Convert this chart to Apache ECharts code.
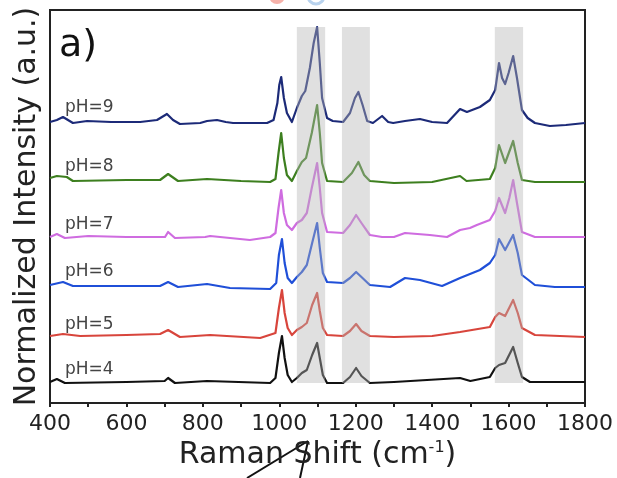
<!DOCTYPE html>
<html>
<head>
<meta charset="utf-8">
<script src="https://cdn.jsdelivr.net/npm/echarts@6/dist/echarts.min.js"></script>
<style>
  html, body { margin: 0; padding: 0; background: #fff; }
  #main { width: 617px; height: 478px; }
</style>
</head>
<body>
<div id="main"></div>
<script>
// spectra, already offset (stacked) as in the figure: [Raman shift, intensity]
const ph9 = [[400,281],[418,283],[434,286],[460,280],[497,282],[560,281],[636,281],[680,283],[706,289],[722,283],[740,279],[793,280],[811,282],[837,283],[860,281],[879,280],[920,280],[968,280],[985,283],[995,300],[1000,318],[1005,326],[1012,305],[1020,290],[1033,281],[1046,295],[1059,307],[1068,312],[1080,335],[1090,360],[1099,376],[1106,340],[1112,305],[1125,285],[1140,282],[1167,281],[1185,290],[1198,305],[1207,311],[1218,298],[1230,282],[1245,280],[1269,287],[1285,281],[1298,280],[1329,282],[1368,284],[1400,281],[1439,280],[1473,294],[1491,291],[1525,296],[1551,303],[1565,313],[1575,340],[1583,325],[1591,319],[1600,330],[1612,347],[1622,325],[1635,293],[1650,285],[1669,280],[1708,277],[1750,278],[1800,280]];
const ph8 = [[400,225],[418,227],[444,226],[460,222],[600,223],[688,223],[709,229],[735,222],[811,224],[900,222],[976,221],[990,224],[998,250],[1005,270],[1012,245],[1020,228],[1033,222],[1046,232],[1059,241],[1070,245],[1085,270],[1099,298],[1106,270],[1112,240],[1125,222],[1167,221],[1190,230],[1207,241],[1222,228],[1237,222],[1300,220],[1400,221],[1473,227],[1490,222],[1551,224],[1565,235],[1575,258],[1591,240],[1612,262],[1624,240],[1635,223],[1669,221],[1800,221]];
const ph7 = [[400,166],[418,169],[439,165],[500,167],[600,166],[701,166],[709,171],[727,165],[806,166],[819,167],[923,163],[976,166],[990,170],[998,195],[1005,213],[1012,190],[1020,178],[1033,173],[1046,180],[1059,183],[1072,190],[1085,215],[1099,240],[1106,215],[1112,190],[1125,171],[1167,170],[1185,178],[1201,188],[1215,180],[1237,168],[1269,166],[1300,166],[1329,170],[1394,168],[1439,166],[1473,173],[1499,175],[1517,178],[1551,183],[1565,192],[1575,205],[1591,190],[1602,205],[1612,223],[1622,200],[1635,171],[1669,166],[1800,166]];
const ph6 = [[400,118],[434,121],[460,117],[600,117],[688,117],[709,121],[735,116],[811,119],[871,115],[976,114],[992,120],[999,148],[1007,164],[1014,140],[1022,125],[1033,120],[1046,126],[1059,131],[1072,138],[1086,160],[1099,180],[1106,155],[1114,130],[1125,121],[1167,120],[1185,125],[1201,131],[1215,126],[1237,118],[1290,116],[1329,125],[1368,123],[1426,117],[1473,125],[1525,133],[1551,140],[1565,148],[1575,164],[1591,153],[1612,168],[1624,150],[1635,128],[1669,118],[1721,116],[1800,116]];
const ph5 = [[400,67],[434,69],[479,67],[600,68],[688,69],[709,73],[740,66],[819,68],[950,65],[990,70],[999,95],[1007,113],[1014,90],[1022,75],[1033,68],[1046,73],[1059,76],[1072,80],[1086,98],[1099,110],[1106,92],[1114,75],[1125,68],[1167,67],[1185,72],[1201,79],[1215,72],[1237,67],[1300,66],[1400,67],[1473,71],[1551,76],[1565,86],[1575,90],[1591,87],[1612,103],[1624,90],[1635,75],[1669,68],[1800,66]];
const ph4 = [[400,21],[418,24],[439,20],[600,21],[700,22],[709,25],[727,20],[811,22],[976,20],[990,25],[999,50],[1007,67],[1014,45],[1022,28],[1033,21],[1046,25],[1059,30],[1072,33],[1086,48],[1099,60],[1106,45],[1114,28],[1125,20],[1167,20],[1185,26],[1201,35],[1215,27],[1237,20],[1300,21],[1473,25],[1500,22],[1551,26],[1565,35],[1575,38],[1591,40],[1612,56],[1624,40],[1635,26],[1656,21],[1800,21]];

const phNames = ['pH=4', 'pH=5', 'pH=6', 'pH=7', 'pH=8', 'pH=9'];
const phColors = ['#111111', '#d8453c', '#1f4fd8', '#cf6ce0', '#3d7f1f', '#1c2a78'];
const labelPos = [[439, 33], [439, 78], [439, 131], [439, 178], [439, 236], [439, 295]];
const bands = [[1046, 1120], [1164, 1237], [1564, 1638]];
const bandY = [20, 376];

const spectra = [ph4, ph5, ph6, ph7, ph8, ph9];
const font = 'DejaVu Sans';

let chart = echarts.init(document.getElementById('main'));

let series = spectra.map((d, i) => ({
  name: phNames[i],
  type: 'line',
  data: d,
  showSymbol: false,
  lineStyle: { color: phColors[i], width: 2.2, join: 'round' },
  itemStyle: { color: phColors[i] },
  markPoint: {
    symbol: 'circle',
    symbolSize: 0,
    silent: true,
    label: {
      show: true,
      position: 'right',
      distance: 0,
      formatter: phNames[i],
      fontFamily: font,
      fontSize: 17,
      color: '#444'
    },
    data: [{ coord: labelPos[i] }]
  }
}));

// grey bands, drawn over the lines (they fade them in the figure)
series.push({
  type: 'line',
  data: [],
  markArea: {
    z: 10,
    silent: true,
    itemStyle: { color: 'rgba(180,180,180,0.42)' },
    data: bands.map(b => [{ xAxis: b[0], yAxis: bandY[0] }, { xAxis: b[1], yAxis: bandY[1] }])
  }
});

chart.setOption({
  animation: false,
  grid: {
    left: 50, right: 32, top: 10, bottom: 75,
    show: true, borderColor: '#222', borderWidth: 2
  },
  title: {
    text: 'a)',
    left: 54, top: 22,
    textStyle: { fontFamily: font, fontSize: 38, fontWeight: 'normal', color: '#111' }
  },
  xAxis: {
    type: 'value',
    min: 400, max: 1800, interval: 200,
    name: 'Raman Shift (cm{sup|-1})',
    nameLocation: 'middle',
    nameGap: 36,
    nameTextStyle: {
      fontFamily: font, fontSize: 30, color: '#222',
      rich: { sup: { fontFamily: font, fontSize: 16, color: '#222', verticalAlign: 'top', padding: [0, 0, 14, 0] } }
    },
    axisLine: { lineStyle: { color: '#222', width: 2 } },
    axisTick: { show: true, length: 4, lineStyle: { color: '#222', width: 2 } },
    minorTick: { show: true, splitNumber: 2, length: 4, lineStyle: { color: '#222', width: 2 } },
    splitLine: { show: false },
    axisLabel: {
      fontFamily: font, fontSize: 22, color: '#222', margin: 10,
      formatter: v => String(v)
    }
  },
  yAxis: {
    type: 'value',
    min: 0, max: 393,
    name: 'Normalized Intensity (a.u.)',
    nameLocation: 'middle',
    nameGap: 8,
    nameTextStyle: { fontFamily: font, fontSize: 30, color: '#222' },
    axisLine: { show: true, lineStyle: { color: '#222', width: 2 } },
    axisTick: { show: false },
    axisLabel: { show: false },
    splitLine: { show: false }
  },
  graphic: [
    { type: 'circle', shape: { cx: 277, cy: -4, r: 8 }, style: { fill: '#f6b2aa' } },
    { type: 'circle', shape: { cx: 316, cy: -4, r: 8 }, style: { fill: 'none', stroke: '#b9d3ee', lineWidth: 3 } },
    { type: 'line', shape: { x1: 247, y1: 478, x2: 308, y2: 441 }, style: { stroke: '#111', lineWidth: 2 } },
    { type: 'line', shape: { x1: 300, y1: 478, x2: 308, y2: 441 }, style: { stroke: '#111', lineWidth: 2 } }
  ],
  series: series
});
</script>
</body>
</html>
